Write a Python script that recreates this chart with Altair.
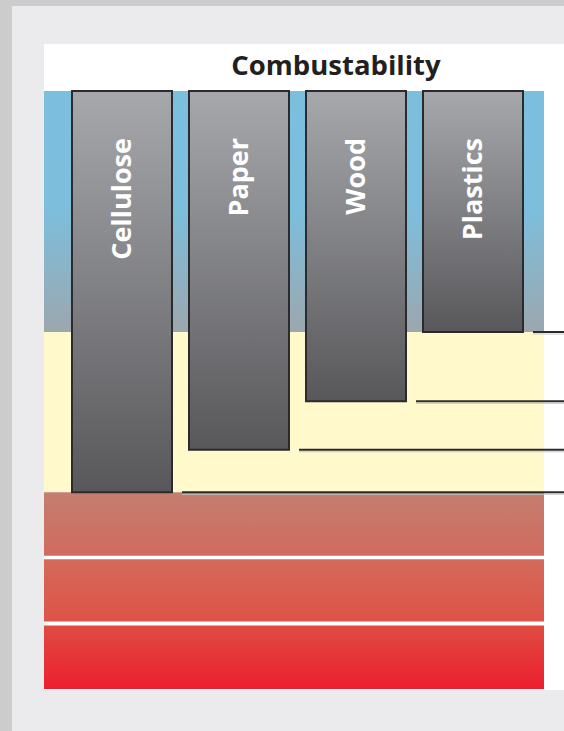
import altair as alt
import pandas as pd

# ---- data -------------------------------------------------------------
materials = ["Cellulose", "Paper", "Wood", "Plastics"]
bar_top = [0.0, 0.0, 0.0, 0.0]
bar_bottom = [67.1, 60.0, 51.9, 40.3]

zone_names = ["blue", "yellow", "red1", "red2", "red3"]
zone_start = [0.0, 40.3, 67.1, 78.3, 89.4]
zone_end = [40.3, 67.1, 77.7, 88.7, 100.0]
zone_stops = [
    [(0.0, "#7bbfde"), (0.5, "#7dbedc"), (1.0, "#9ca7ae")],
    [(0.0, "#fff9cc"), (1.0, "#fff9cc")],
    [(0.0, "#c47e6f"), (1.0, "#d06b5e")],
    [(0.0, "#d46a5b"), (1.0, "#dd5347")],
    [(0.0, "#e04b41"), (1.0, "#ec1f30")],
]

title_text = "Combustability"
FONT = "Open Sans"

bars = pd.DataFrame({"material": materials, "top": bar_top, "bottom": bar_bottom})
zones = pd.DataFrame({"zone": zone_names, "start": zone_start, "end": zone_end})

W, H = 500, 598

xscale = alt.Scale(domain=materials, paddingInner=0.1453, paddingOuter=0.2094, align=0.5714)
yscale = alt.Scale(domain=[0, 100], reverse=True, nice=False, zero=False)


def grad(stops):
    return alt.Gradient(
        gradient="linear", x1=0, y1=0, x2=0, y2=1,
        stops=[alt.GradientStop(offset=o, color=c) for o, c in stops],
    )


deco = pd.DataFrame({"k": [0]})
# decorative frame: grey border strips and white panel
frame_white = alt.Chart(deco).mark_rect(color="white").encode(
    x=alt.value(0), x2=alt.value(W + 20), y=alt.value(-47), y2=alt.value(H + 1)
)
frame_left = alt.Chart(deco).mark_rect(color="#cccccc").encode(
    x=alt.value(-44), x2=alt.value(-32), y=alt.value(-91), y2=alt.value(H + 42)
)
frame_top = alt.Chart(deco).mark_rect(color="#cccccc").encode(
    x=alt.value(-44), x2=alt.value(W + 20), y=alt.value(-91), y2=alt.value(-85)
)

zone_layers = []
for name, stops in zip(zone_names, zone_stops):
    zone_layers.append(
        alt.Chart(zones).transform_filter(alt.datum.zone == name)
        .mark_rect(fill=grad(stops))
        .encode(
            y=alt.Y("start:Q", scale=yscale, axis=None),
            y2="end:Q",
        )
    )

bar_layer = alt.Chart(bars).mark_bar(
    fill=grad([(0.0, "#a7a8ac"), (1.0, "#58585b")]),
    stroke="#2b2b2d", strokeWidth=2,
).encode(
    x=alt.X("material:N", scale=xscale, axis=None, sort=materials),
    y=alt.Y("top:Q", scale=yscale, axis=None),
    y2="bottom:Q",
)

shadow_layer = alt.Chart(bars).mark_rule(color="#c8c8c8", strokeWidth=1, xOffset=10, yOffset=2).encode(
    x=alt.X("material:N", scale=xscale, axis=None, sort=materials, bandPosition=1),
    x2=alt.value(W + 30),
    y=alt.Y("bottom:Q", scale=yscale, axis=None),
)

line_layer = alt.Chart(bars).mark_rule(color="#2b2b2b", strokeWidth=2, xOffset=10).encode(
    x=alt.X("material:N", scale=xscale, axis=None, sort=materials, bandPosition=1),
    x2=alt.value(W + 30),
    y=alt.Y("bottom:Q", scale=yscale, axis=None),
)

label_layer = alt.Chart(bars).mark_text(
    angle=270, align="right", baseline="middle", font=FONT, fontSize=27,
    fontWeight="bold", color="white", yOffset=47, xOffset=1.5,
).encode(
    x=alt.X("material:N", scale=xscale, axis=None, sort=materials),
    y=alt.Y("top:Q", scale=yscale, axis=None),
    text="material:N",
)

chart = alt.layer(
    frame_white, frame_left, frame_top, *zone_layers, bar_layer,
    shadow_layer, line_layer, label_layer,
).properties(
    width=W, height=H,
    title=alt.TitleParams(
        title_text, font=FONT, fontSize=27.5, fontWeight="bold", color="#231f20",
        anchor="middle", frame="group", dx=42, dy=118, offset=16, baseline="alphabetic",
    ),
    background="#ebebed",
    padding={"left": 44, "top": 91, "right": 20, "bottom": 42},
    autosize=alt.AutoSizeParams(type="none"),
).configure_view(stroke=None)

chart.save("out.html", embed_options={"renderer": "svg", "actions": False})
